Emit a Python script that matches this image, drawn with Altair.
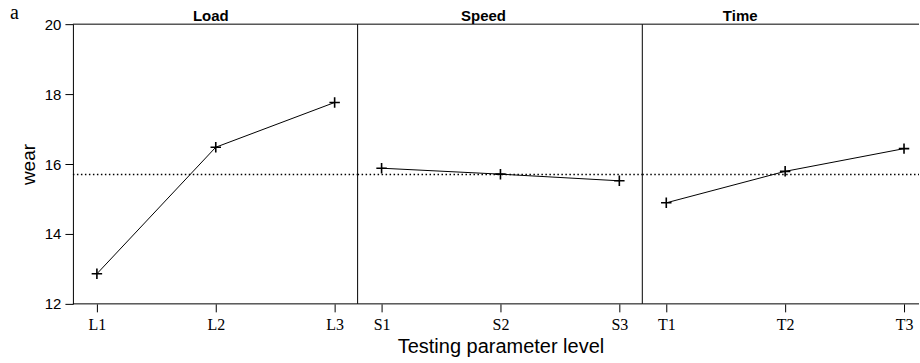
import altair as alt
import pandas as pd

# ---- data ----
panel_label = "a"
factors = ["Load", "Speed", "Time"]
load_levels = ["L1", "L2", "L3"]
speed_levels = ["S1", "S2", "S3"]
time_levels = ["T1", "T2", "T3"]
load_wear = [12.86, 16.48, 17.76]
speed_wear = [15.88, 15.71, 15.52]
time_wear = [14.89, 15.79, 16.44]
y_ticks = [12, 14, 16, 18, 20]
y_label = "wear"
x_label = "Testing parameter level"

level_lists = [load_levels, speed_levels, time_levels]
wear_lists = [load_wear, speed_wear, time_wear]

rows = []
for f, levels, vals in zip(factors, level_lists, wear_lists):
    for lev, v in zip(levels, vals):
        rows.append({"factor": f, "level": lev, "wear": v})
df = pd.DataFrame(rows)
tag_df = pd.DataFrame({"t": [panel_label]})

PANEL_H = 280
widths = [285, 285, 277]
title_x = [138, 126, 98]
SANS = "Liberation Sans"
SERIF = "Liberation Serif"
CROSS = "M-1,0L1,0M0,-1L0,1"


def panel(i):
    f = factors[i]
    w = widths[i]
    levels = level_lists[i]
    base = alt.Chart(df)
    sub = base.transform_filter(alt.datum.factor == f)

    x = alt.X(
        "level:O",
        scale=alt.Scale(type="point", domain=levels, range=[24, 262], padding=0),
        axis=alt.Axis(
            title=x_label if i == 1 else None,
            titleFont=SANS, titleFontSize=20, titleFontWeight="normal",
            titleColor="black", titlePadding=4,
            labelAngle=0, labelFont=SERIF, labelFontSize=16, labelColor="black",
            labelPadding=5, tickColor="black", tickSize=8, tickWidth=1,
            domain=False, grid=False,
        ),
    )
    if i == 0:
        y_axis = alt.Axis(
            title=y_label, titleFont=SANS, titleFontSize=19, titleFontWeight="normal",
            titleColor="black", titlePadding=6,
            values=y_ticks, labelFont=SANS, labelFontSize=15, labelColor="black",
            labelPadding=4, tickColor="black", tickSize=8, domainColor="black",
            domainWidth=1, grid=False,
        )
    else:
        y_axis = None
    yscale = alt.Scale(domain=[12, 20], nice=False, zero=False)
    y = alt.Y("wear:Q", scale=yscale, axis=y_axis)
    ym = alt.Y("mean(wear):Q", scale=yscale, axis=y_axis)

    mean_rule = base.mark_rule(
        color="black", strokeDash=[1.5, 2.5], strokeWidth=1.5
    ).encode(y=ym, x=alt.value(0), x2=alt.value(w))
    line = sub.mark_line(color="black", strokeWidth=1).encode(x=x, y=y)
    pts = sub.mark_point(
        shape=CROSS, size=110, color="black", strokeWidth=1.6, filled=False, opacity=1
    ).encode(x=x, y=y)

    head_df = pd.DataFrame({"h": [f]})
    head = alt.Chart(head_df).mark_text(
        font=SANS, fontSize=15, fontWeight="bold", color="black",
        align="center", baseline="alphabetic",
    ).encode(x=alt.value(title_x[i]), y=alt.value(-3), text="h:N")

    frame = alt.Chart(tag_df)
    top = frame.mark_rule(color="black", strokeWidth=1).encode(
        x=alt.value(0), x2=alt.value(w), y=alt.value(0))
    bottom = frame.mark_rule(color="black", strokeWidth=1).encode(
        x=alt.value(0), x2=alt.value(w), y=alt.value(PANEL_H))
    layers = [mean_rule, line, pts, top, bottom, head]
    if i > 0:
        left = frame.mark_rule(color="black", strokeWidth=1).encode(
            x=alt.value(0), y=alt.value(0), y2=alt.value(PANEL_H))
        layers.append(left)
    else:
        tag = frame.mark_text(
            font=SERIF, fontSize=20, align="left", baseline="alphabetic", color="black"
        ).encode(x=alt.value(-63), y=alt.value(-5), text="t:N")
        layers.append(tag)

    return alt.layer(*layers).properties(width=w, height=PANEL_H)


chart = alt.hconcat(panel(0), panel(1), panel(2), spacing=0, bounds="flush").properties(
    autosize=alt.AutoSizeParams(type="pad"),
    padding={"left": 10, "top": 3, "right": 0, "bottom": 0},
    background="white",
).configure_view(stroke=None)

chart.save("out.html", embed_options={"renderer": "svg", "actions": False})
